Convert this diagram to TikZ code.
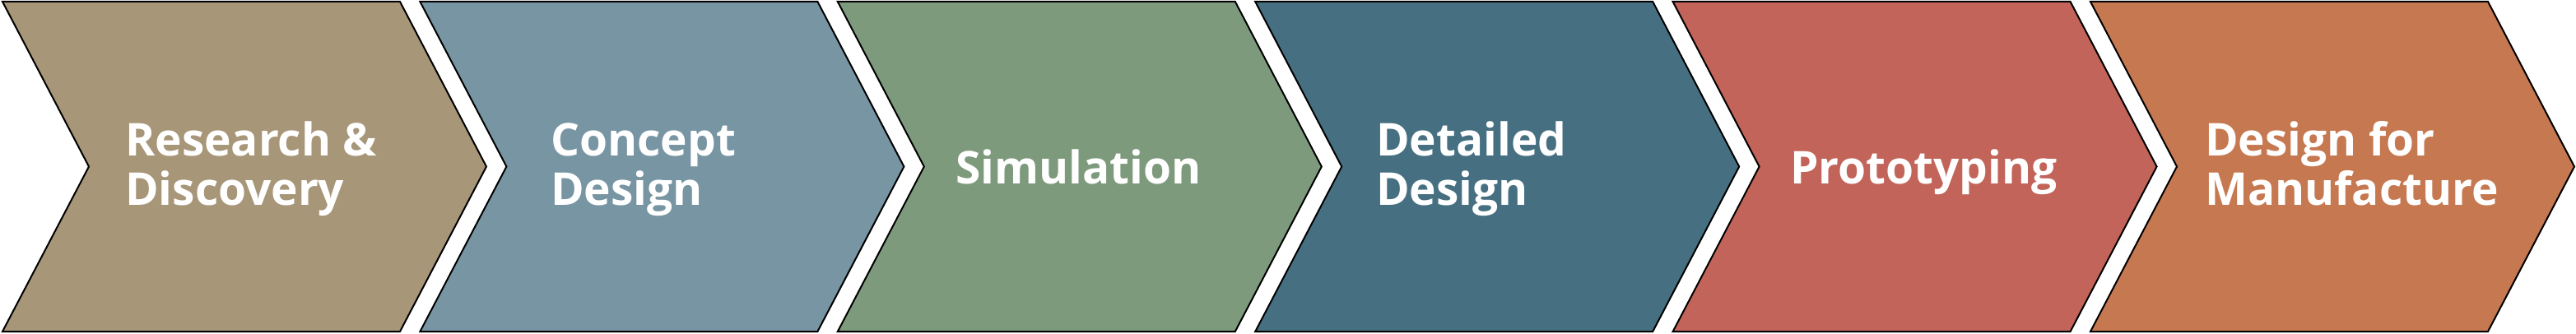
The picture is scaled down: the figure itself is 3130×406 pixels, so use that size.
\documentclass[tikz,border=0pt]{standalone}
\usepackage{fontspec}
\setmainfont{Open Sans}
\definecolor{cA}{HTML}{A79678}
\definecolor{cB}{HTML}{7895A3}
\definecolor{cC}{HTML}{7E9A7C}
\definecolor{cD}{HTML}{467082}
\definecolor{cE}{HTML}{C26459}
\definecolor{cF}{HTML}{C67851}
\tikzset{
  chev/.style={draw=black, line width=2pt, line join=miter},
  lbl/.style={text=white, font=\fontsize{55}{60}\selectfont\bfseries, inner sep=0pt, align=left, anchor=base west}
}
\begin{document}
\begin{tikzpicture}[x=1pt,y=-1pt]
\useasboundingbox (0,0) rectangle (3130,406);
\foreach \k/\c in {0/cA,1/cB,2/cC,3/cD,4/cE,5/cF}{
  \pgfmathsetmacro{\X}{3+507.4*\k}
  \path[chev, fill=\c] (\X,2) -- ({\X+483},2) -- ({\X+588},202.5) -- ({\X+483},403) -- (\X,403) -- ({\X+105},202.5) -- cycle;
}
\node[lbl] (t1) at (152,250) {Research \&\\Discovery};
\node[lbl] (t2) at (669,250) {Concept\\Design};
\node[lbl] (t3) at (1161,224) {Simulation};
\node[lbl] (t4) at (1672,250) {Detailed\\Design};
\node[lbl] (t5) at (2175,224) {Prototyping};
\node[lbl] (t6) at (2679,250) {Design for\\Manufacture};
\end{tikzpicture}
\end{document}
